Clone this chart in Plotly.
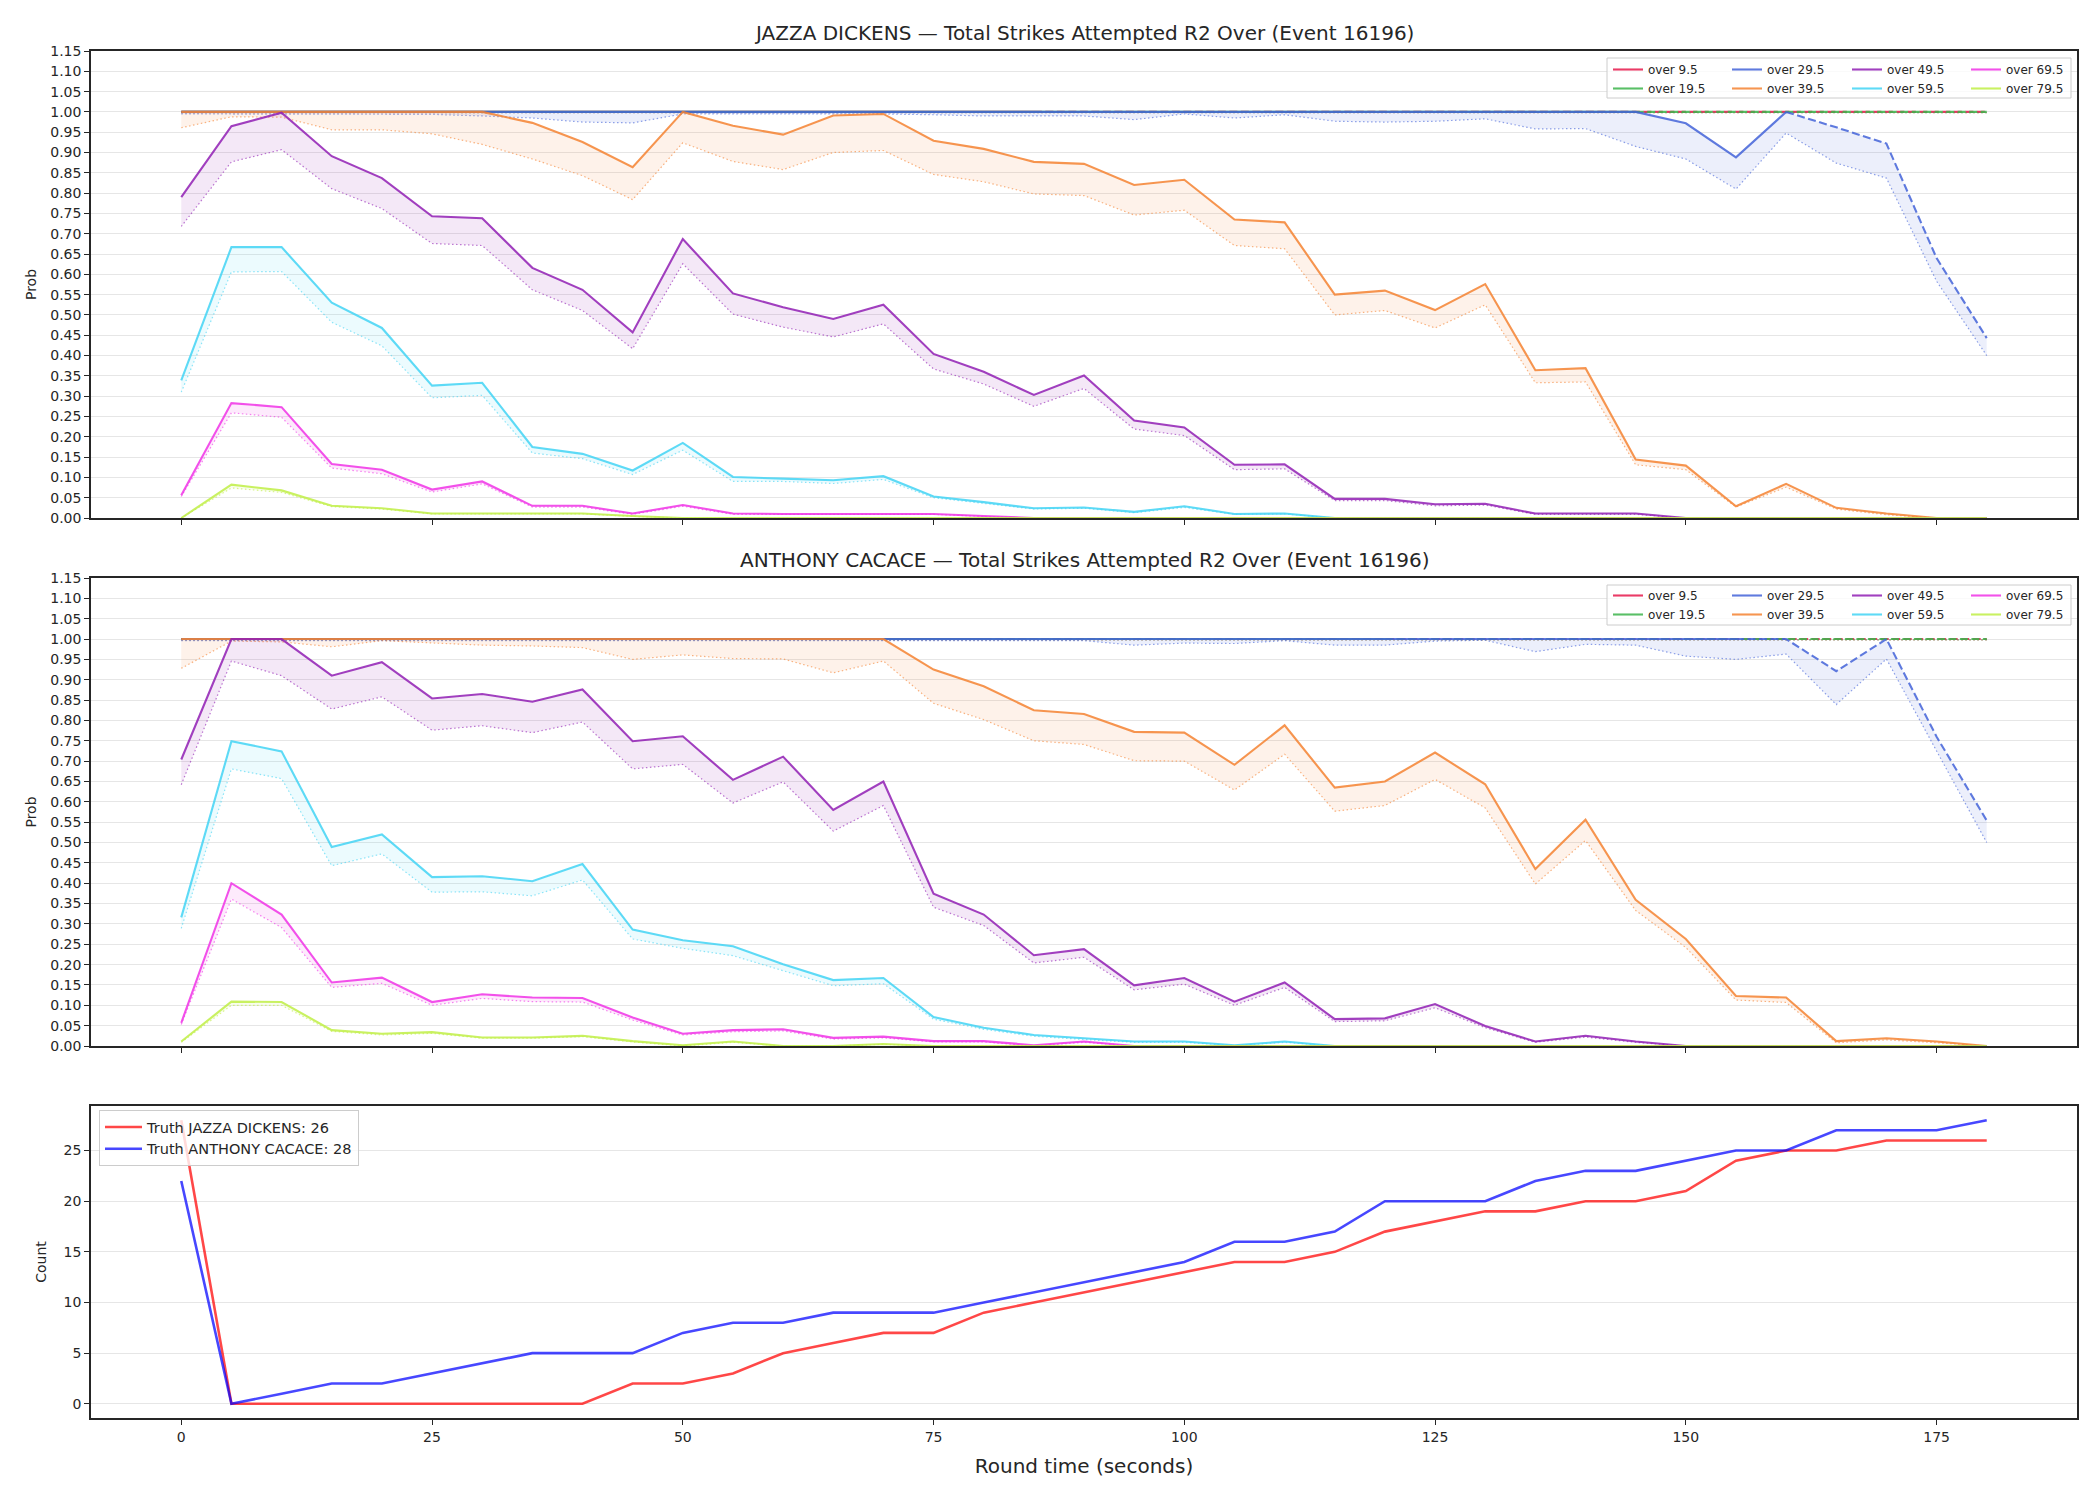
import plotly.graph_objects as go

# ---------------- data ----------------
t = list(range(0, 181, 5))
labels = ["over 9.5", "over 19.5", "over 29.5", "over 39.5",
          "over 49.5", "over 59.5", "over 69.5", "over 79.5"]
colors = ["#e6194b", "#3cb44b", "#4363d8", "#f58231",
          "#911eb4", "#42d4f4", "#f032e6", "#bfef45"]

Z = [0.0]

# JAZZA DICKENS (upper = solid line, lower = dotted line)
jd_09_hi = [1.0] * 37
jd_09_lo = [0.998] * 37
jd_19_hi = [1.0] * 37
jd_19_lo = [0.998] * 37
jd_29_hi = [1.0] * 30 + [0.972, 0.888, 1.0, 0.962, 0.922, 0.64, 0.443]
jd_29_lo = [0.995, 0.995, 0.995, 0.995, 0.995, 0.994, 0.99, 0.985, 0.975, 0.973,
            0.995, 0.995, 0.995, 0.995, 0.995, 0.993, 0.99, 0.99, 0.99, 0.981,
            0.995, 0.985, 0.993, 0.977, 0.975, 0.977, 0.983, 0.958, 0.959, 0.915,
            0.884, 0.81, 0.948, 0.874, 0.837, 0.583, 0.40]
jd_39_hi = [1.0] * 7 + [0.973, 0.926, 0.864, 1.0, 0.966, 0.944, 0.991, 0.995, 0.929,
                        0.909, 0.877, 0.872, 0.820, 0.833, 0.735, 0.728, 0.55, 0.56,
                        0.512, 0.576, 0.364, 0.369, 0.144, 0.129, 0.029, 0.084, 0.025,
                        0.011, 0.0, 0.0]
jd_39_lo = [0.961, 0.988, 0.987, 0.956, 0.956, 0.946, 0.92, 0.884, 0.843, 0.784,
            0.924, 0.878, 0.858, 0.90, 0.905, 0.846, 0.828, 0.798, 0.794, 0.746,
            0.758, 0.671, 0.663, 0.50, 0.511, 0.468, 0.525, 0.333, 0.335, 0.131,
            0.119, 0.027, 0.076, 0.022, 0.008, 0.0, 0.0]
jd_49_hi = [0.79, 0.965, 0.998, 0.891, 0.837, 0.743, 0.738, 0.616, 0.562, 0.457,
            0.687, 0.553, 0.519, 0.49, 0.525, 0.404, 0.36, 0.303, 0.351, 0.24,
            0.223, 0.131, 0.132, 0.047, 0.047, 0.034, 0.035, 0.011, 0.011, 0.011] + Z * 7
jd_49_lo = [0.718, 0.877, 0.907, 0.811, 0.762, 0.676, 0.671, 0.562, 0.511, 0.417,
            0.626, 0.502, 0.47, 0.446, 0.478, 0.367, 0.33, 0.275, 0.319, 0.219,
            0.203, 0.119, 0.121, 0.043, 0.043, 0.03, 0.032, 0.009, 0.009, 0.009] + Z * 7
jd_59_hi = [0.339, 0.667, 0.667, 0.53, 0.468, 0.326, 0.333, 0.175, 0.158, 0.117,
            0.185, 0.101, 0.097, 0.093, 0.103, 0.053, 0.039, 0.024, 0.026, 0.015,
            0.029, 0.01, 0.011] + Z * 14
jd_59_lo = [0.31, 0.606, 0.607, 0.482, 0.424, 0.296, 0.302, 0.16, 0.146, 0.107,
            0.167, 0.09, 0.09, 0.085, 0.095, 0.05, 0.036, 0.022, 0.024, 0.013,
            0.026, 0.009, 0.01] + Z * 14
jd_69_hi = [0.056, 0.283, 0.273, 0.133, 0.119, 0.07, 0.09, 0.03, 0.03, 0.011,
            0.032, 0.011, 0.01, 0.01, 0.01, 0.01, 0.005] + Z * 20
jd_69_lo = [0.053, 0.259, 0.248, 0.123, 0.109, 0.064, 0.084, 0.027, 0.027, 0.009,
            0.029, 0.009, 0.009, 0.009, 0.009, 0.009, 0.004] + Z * 20
jd_79_hi = [0.0, 0.082, 0.068, 0.03, 0.024, 0.011, 0.011, 0.011, 0.011, 0.005] + Z * 27
jd_79_lo = [0.0, 0.074, 0.063, 0.028, 0.022, 0.01, 0.01, 0.01, 0.01, 0.004] + Z * 27

# ANTHONY CACACE
ac_09_hi = [1.0] * 37
ac_09_lo = [0.998] * 37
ac_19_hi = [1.0] * 37
ac_19_lo = [0.998] * 37
ac_29_hi = [1.0] * 33 + [0.921, 1.0, 0.76, 0.554]
ac_29_lo = [0.996] * 19 + [0.985, 0.99, 0.989, 0.996, 0.985, 0.985, 0.995, 0.997,
                           0.969, 0.987, 0.985, 0.958, 0.95, 0.963, 0.839, 0.951,
                           0.725, 0.50]
ac_39_hi = [1.0] * 15 + [0.925, 0.884, 0.825, 0.816, 0.772, 0.77, 0.691, 0.788, 0.635,
                         0.65, 0.721, 0.643, 0.435, 0.556, 0.359, 0.263, 0.123, 0.119,
                         0.012, 0.019, 0.011, 0.0]
ac_39_lo = [0.928, 0.995, 0.993, 0.981, 0.996, 0.991, 0.985, 0.983, 0.979, 0.95,
            0.961, 0.952, 0.951, 0.917, 0.946, 0.842, 0.802, 0.75, 0.741, 0.701,
            0.70, 0.629, 0.717, 0.577, 0.591, 0.655, 0.585, 0.398, 0.505, 0.333,
            0.242, 0.113, 0.107, 0.008, 0.015, 0.008, 0.0]
ac_49_hi = [0.704, 1.0, 1.0, 0.91, 0.943, 0.854, 0.865, 0.846, 0.876, 0.749,
            0.761, 0.654, 0.711, 0.58, 0.65, 0.374, 0.323, 0.223, 0.238, 0.149,
            0.167, 0.109, 0.156, 0.066, 0.068, 0.103, 0.049, 0.011, 0.025, 0.011] + Z * 7
ac_49_lo = [0.642, 0.946, 0.91, 0.828, 0.858, 0.776, 0.787, 0.77, 0.796, 0.681,
            0.692, 0.597, 0.649, 0.528, 0.591, 0.341, 0.296, 0.204, 0.218, 0.138,
            0.152, 0.1, 0.144, 0.06, 0.062, 0.094, 0.045, 0.009, 0.022, 0.009] + Z * 7
ac_59_hi = [0.316, 0.749, 0.724, 0.489, 0.52, 0.415, 0.417, 0.405, 0.447, 0.286,
            0.26, 0.245, 0.201, 0.162, 0.167, 0.071, 0.045, 0.027, 0.019, 0.011,
            0.011, 0.002, 0.011] + Z * 14
ac_59_lo = [0.289, 0.681, 0.657, 0.443, 0.472, 0.378, 0.379, 0.369, 0.408, 0.263,
            0.24, 0.222, 0.185, 0.148, 0.153, 0.066, 0.041, 0.024, 0.016, 0.009,
            0.009, 0.001, 0.009] + Z * 14
ac_69_hi = [0.057, 0.40, 0.323, 0.156, 0.168, 0.108, 0.127, 0.119, 0.118, 0.07,
            0.03, 0.039, 0.041, 0.02, 0.023, 0.012, 0.012, 0.002, 0.011] + Z * 18
ac_69_lo = [0.053, 0.361, 0.291, 0.144, 0.154, 0.1, 0.117, 0.109, 0.108, 0.064,
            0.027, 0.035, 0.037, 0.017, 0.02, 0.01, 0.01, 0.0, 0.009] + Z * 18
ac_79_hi = [0.011, 0.109, 0.108, 0.039, 0.03, 0.034, 0.021, 0.021, 0.025, 0.012,
            0.002, 0.011, 0.0, 0.0, 0.005] + Z * 22
ac_79_lo = [0.009, 0.1, 0.1, 0.036, 0.027, 0.031, 0.019, 0.019, 0.023, 0.01,
            0.0, 0.009, 0.0, 0.0, 0.004] + Z * 22

# time from which each series' upper line is drawn dashed
jd_dash_from = [85, 145, 160, None, None, None, None, None]
ac_dash_from = [80, 120, 155, None, None, None, None, None]

truth_jd = [28, 0, 0, 0, 0, 0, 0, 0, 0, 2, 2, 3, 5, 6, 7, 7, 9, 10, 11, 12, 13,
            14, 14, 15, 17, 18, 19, 19, 20, 20, 21, 24, 25, 25, 26, 26, 26]
truth_ac = [22, 0, 1, 2, 2, 3, 4, 5, 5, 5, 7, 8, 8, 9, 9, 9, 10, 11, 12, 13, 14,
            16, 16, 17, 20, 20, 20, 22, 23, 23, 24, 25, 25, 27, 27, 27, 28]

jd_hi = [jd_09_hi, jd_19_hi, jd_29_hi, jd_39_hi, jd_49_hi, jd_59_hi, jd_69_hi, jd_79_hi]
jd_lo = [jd_09_lo, jd_19_lo, jd_29_lo, jd_39_lo, jd_49_lo, jd_59_lo, jd_69_lo, jd_79_lo]
ac_hi = [ac_09_hi, ac_19_hi, ac_29_hi, ac_39_hi, ac_49_hi, ac_59_hi, ac_69_hi, ac_79_hi]
ac_lo = [ac_09_lo, ac_19_lo, ac_29_lo, ac_39_lo, ac_49_lo, ac_59_lo, ac_69_lo, ac_79_lo]

FONT = "DejaVu Sans"


def rgba(hexc, a):
    h = hexc.lstrip("#")
    r, g, b = int(h[0:2], 16), int(h[2:4], 16), int(h[4:6], 16)
    return f"rgba({r},{g},{b},{a})"


fig = go.Figure()


def add_panel(his, los, dash_from, xa, ya, legend_names):
    for i, (lab, col) in enumerate(zip(labels, colors)):
        hi, lo = his[i], los[i]
        # lower dotted
        fig.add_trace(go.Scatter(x=t, y=lo, mode="lines", xaxis=xa, yaxis=ya,
                                 line=dict(color=rgba(col, 0.6), width=1.2, dash="1.5px,2.5px"),
                                 showlegend=False, hoverinfo="skip"))
        # fill between
        fig.add_trace(go.Scatter(x=t, y=hi, mode="lines", xaxis=xa, yaxis=ya,
                                 line=dict(width=0, color=rgba(col, 0)), fill="tonexty",
                                 fillcolor=rgba(col, 0.1), showlegend=False, hoverinfo="skip"))
        df = dash_from[i]
        if df is None:
            solid = hi
            dashed = None
        else:
            k = t.index(df)
            solid = [v if j <= k else None for j, v in enumerate(hi)]
            dashed = [v if j >= k else None for j, v in enumerate(hi)]
        fig.add_trace(go.Scatter(x=t, y=solid, mode="lines", xaxis=xa, yaxis=ya, name=lab,
                                 line=dict(color=rgba(col, 0.85), width=2.1),
                                 legend=legend_names[i // 2], showlegend=True))
        if dashed is not None:
            fig.add_trace(go.Scatter(x=t, y=dashed, mode="lines", xaxis=xa, yaxis=ya,
                                     line=dict(color=rgba(col, 0.85), width=2.1, dash="8px,3.5px"),
                                     showlegend=False))


add_panel(jd_hi, jd_lo, jd_dash_from, "x", "y", ["legend", "legend2", "legend3", "legend4"])
add_panel(ac_hi, ac_lo, ac_dash_from, "x2", "y2", ["legend5", "legend6", "legend7", "legend8"])

fig.add_trace(go.Scatter(x=t, y=truth_jd, mode="lines", xaxis="x3", yaxis="y3",
                         name="Truth JAZZA DICKENS: 26", legend="legend9",
                         line=dict(color="rgba(255,0,0,0.72)", width=2.6)))
fig.add_trace(go.Scatter(x=t, y=truth_ac, mode="lines", xaxis="x3", yaxis="y3",
                         name="Truth ANTHONY CACACE: 28", legend="legend9",
                         line=dict(color="rgba(0,0,255,0.72)", width=2.6)))

# ---------------- layout ----------------
W, H = 2100, 1500
ML, MR, MT, MB = 91, 23, 51, 82
PH = H - MT - MB
PW = W - ML - MR


def py(px):  # pixel y -> paper y
    return (H - MB - px) / PH


def pxx(px):  # pixel x -> paper x
    return (px - ML) / PW


axis_common = dict(showline=True, mirror=True, linecolor="#262626", linewidth=1.5,
                   ticks="outside", ticklen=5, tickwidth=1.2, tickcolor="#262626",
                   zeroline=False, tickfont=dict(size=14, color="#262626", family=FONT))

xr = [-9, 189]
xt = [0, 25, 50, 75, 100, 125, 150, 175]
prob_ticks = [round(0.05 * i, 2) for i in range(24)]

dom_top = [py(518), 1.0]
dom_mid = [py(1046), py(578)]
dom_bot = [0.0, py(1106)]

layout = dict(
    width=W, height=H,
    margin=dict(l=ML, r=MR, t=MT, b=MB, autoexpand=False),
    paper_bgcolor="white", plot_bgcolor="white",
    font=dict(family=FONT, color="#262626"),
    xaxis=dict(domain=[0, 1], anchor="y", range=xr, tickvals=xt, showticklabels=False,
               showgrid=False, **axis_common),
    yaxis=dict(domain=dom_top, anchor="x", range=[0, 1.15], tickvals=prob_ticks,
               tickformat=".2f", showgrid=True, gridcolor="#e6e6e6", gridwidth=1,
               title=dict(text="Prob", font=dict(size=14), standoff=10), **axis_common),
    xaxis2=dict(domain=[0, 1], anchor="y2", range=xr, tickvals=xt, showticklabels=False,
                showgrid=False, matches="x", **axis_common),
    yaxis2=dict(domain=dom_mid, anchor="x2", range=[0, 1.15], tickvals=prob_ticks,
                tickformat=".2f", showgrid=True, gridcolor="#e6e6e6", gridwidth=1,
                title=dict(text="Prob", font=dict(size=14), standoff=10), **axis_common),
    xaxis3=dict(domain=[0, 1], anchor="y3", range=xr, tickvals=xt, showgrid=False,
                matches="x",
                title=dict(text="Round time (seconds)", font=dict(size=20), standoff=15),
                **axis_common),
    yaxis3=dict(domain=dom_bot, anchor="x3", range=[-1.4, 29.4], tickvals=[0, 5, 10, 15, 20, 25],
                showgrid=True, gridcolor="#e6e6e6", gridwidth=1,
                title=dict(text="Count", font=dict(size=14), standoff=14), **axis_common),
    showlegend=True,
)

leg_cols = [pxx(1608), pxx(1727), pxx(1847), pxx(1966)]
leg_base = dict(bgcolor="rgba(0,0,0,0)", borderwidth=0, font=dict(size=12, family=FONT, color="#262626"),
                xanchor="left", yanchor="top", orientation="v", tracegroupgap=0, itemwidth=30,
                traceorder="normal")
for j in range(4):
    layout["legend" if j == 0 else f"legend{j+1}"] = dict(x=leg_cols[j], y=py(55), **leg_base)
    layout[f"legend{j+5}"] = dict(x=leg_cols[j], y=py(581), **leg_base)
layout["legend9"] = dict(x=pxx(99), y=py(1110), xanchor="left", yanchor="top",
                         bgcolor="rgba(255,255,255,0.8)", bordercolor="#cccccc", borderwidth=1,
                         font=dict(size=14.5, family=FONT, color="#262626"), tracegroupgap=0,
                         traceorder="normal", itemwidth=37)

layout["shapes"] = [
    dict(type="rect", xref="paper", yref="paper", x0=pxx(1607), x1=pxx(2071),
         y0=py(98), y1=py(58), line=dict(color="#cccccc", width=1),
         fillcolor="rgba(255,255,255,0.8)", layer="above"),
    dict(type="rect", xref="paper", yref="paper", x0=pxx(1607), x1=pxx(2071),
         y0=py(625), y1=py(585), line=dict(color="#cccccc", width=1),
         fillcolor="rgba(255,255,255,0.8)", layer="above"),
]

layout["annotations"] = [
    dict(text="JAZZA DICKENS — Total Strikes Attempted R2 Over (Event 16196)",
         x=0.5, y=dom_top[1], xref="paper", yref="paper", xanchor="center", yanchor="bottom",
         yshift=4, showarrow=False, font=dict(size=20, family=FONT, color="#262626")),
    dict(text="ANTHONY CACACE — Total Strikes Attempted R2 Over (Event 16196)",
         x=0.5, y=dom_mid[1], xref="paper", yref="paper", xanchor="center", yanchor="bottom",
         yshift=4, showarrow=False, font=dict(size=20, family=FONT, color="#262626")),
]

fig.update_layout(**layout)
fig.write_html("out.html")
